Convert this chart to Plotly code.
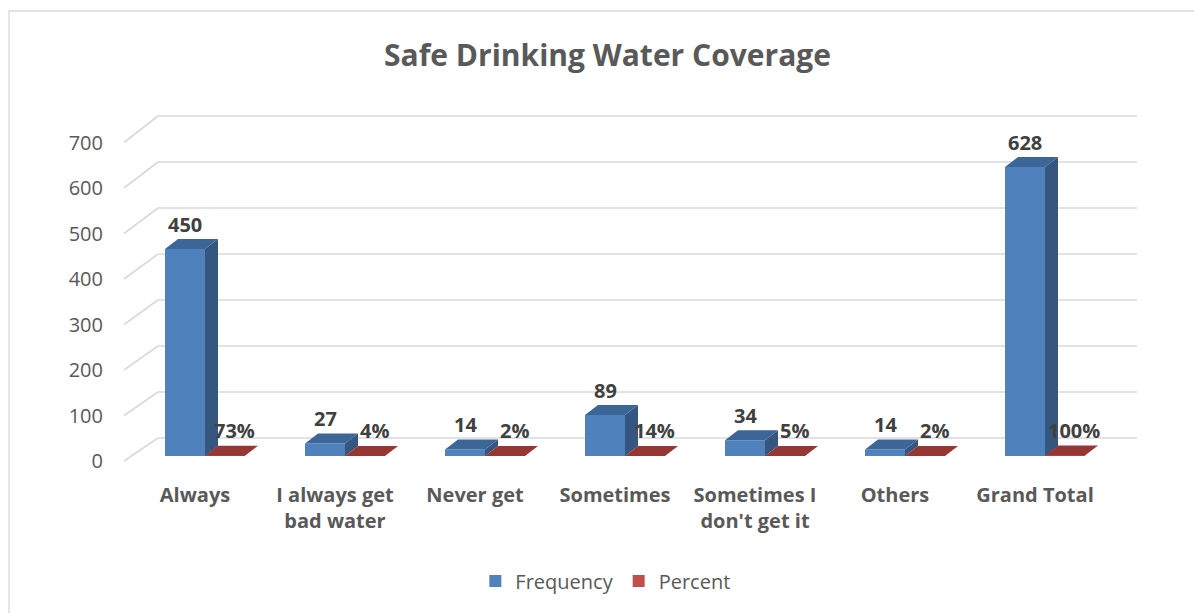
import plotly.graph_objects as go

# ---- data -------------------------------------------------------------
categories = ["Always", "I always get<br>bad water", "Never get", "Sometimes",
              "Sometimes I<br>don't get it", "Others", "Grand Total"]
frequency = [450, 27, 14, 89, 34, 14, 628]
percent = [73, 4, 2, 14, 5, 2, 100]          # shown as "%"; plotted as fractions
y_ticks = [0, 100, 200, 300, 400, 500, 600, 700]

# ---- geometry of the pseudo-3D drawing (pixels -> axis units) ----------
FIG_W, FIG_H = 1194, 613
M_L, M_R, M_T, M_B = 104, 0, 20, 143
PLOT_BOTTOM = FIG_H - M_B
CAT0_PX, CAT_STEP = 205, 140           # centre of first bar pair, spacing
BASE_PX, VAL_PX = 456, 0.46            # bar floor pixel, pixels per unit
LBL_BASE_PX, LBL_PX = 461, 0.455       # front edge of the side wall (tick labels)
BAR_W = 40 / CAT_STEP
DX, DY = 13 / CAT_STEP, 10 / VAL_PX    # bar depth
WALL_X0, WALL_X1 = (158 - CAT0_PX) / CAT_STEP, (1137 - CAT0_PX) / CAT_STEP
EDGE_X = (124 - CAT0_PX) / CAT_STEP
WALL_RISE_PX = 18

x_range = [(M_L - CAT0_PX) / CAT_STEP, (FIG_W - M_R - CAT0_PX) / CAT_STEP]
y_range = [(BASE_PX - PLOT_BOTTOM) / VAL_PX, (BASE_PX - M_T) / VAL_PX]
y2_range = [(LBL_BASE_PX - PLOT_BOTTOM) / LBL_PX, (LBL_BASE_PX - M_T) / LBL_PX]

BLUE, BLUE_SIDE, BLUE_TOP = "#4f81bd", "#34567f", "#3c6598"
RED, RED_SIDE, RED_TOP = "#c0504d", "#7a2c2a", "#953735"
GRID = "#d9d9d9"
TEXT = "#595959"
FONT = "Open Sans"


def faces(lefts, heights):
    """Side and top face polygons for a set of bars (None-separated)."""
    sx, sy, tx, ty = [], [], [], []
    for xl, h in zip(lefts, heights):
        xr = xl + BAR_W
        sx += [xr, xr + DX, xr + DX, xr, xr, None]
        sy += [0, DY, h + DY, h, 0, None]
        tx += [xl, xl + DX, xr + DX, xr, xl, None]
        ty += [h, h + DY, h + DY, h, h, None]
    return sx, sy, tx, ty


idx = list(range(len(categories)))
pct_frac = [p / 100 for p in percent]
freq_left = [i - BAR_W for i in idx]
pct_left = idx[:]

fig = go.Figure()

fig.add_trace(go.Bar(name="Frequency", x=idx, y=frequency, width=BAR_W,
                     offset=-BAR_W, marker=dict(color=BLUE, line_width=0)))
fig.add_trace(go.Bar(name="Percent", x=idx, y=pct_frac, width=BAR_W,
                     offset=0, marker=dict(color=RED, line_width=0)))

for lefts, heights, side_c, top_c in [(freq_left, frequency, BLUE_SIDE, BLUE_TOP),
                                      (pct_left, pct_frac, RED_SIDE, RED_TOP)]:
    sx, sy, tx, ty = faces(lefts, heights)
    fig.add_trace(go.Scatter(x=sx, y=sy, fill="toself", fillcolor=side_c,
                             mode="lines", line=dict(width=0, color=side_c),
                             showlegend=False, hoverinfo="skip"))
    fig.add_trace(go.Scatter(x=tx, y=ty, fill="toself", fillcolor=top_c,
                             mode="lines", line=dict(width=0, color=top_c),
                             showlegend=False, hoverinfo="skip"))

# side-wall diagonals, running from the tick labels back to the wall
dgx, dgy = [], []
for v in y_ticks:
    back_px = BASE_PX - WALL_RISE_PX - VAL_PX * v
    dgx += [EDGE_X, WALL_X0, None]
    dgy += [v, (LBL_BASE_PX - back_px) / LBL_PX, None]
fig.add_trace(go.Scatter(x=dgx, y=dgy, yaxis="y2", mode="lines",
                         line=dict(color=GRID, width=1.6),
                         showlegend=False, hoverinfo="skip"))

# back-wall gridlines
shapes = []
for v in y_ticks:
    yv = v + WALL_RISE_PX / VAL_PX
    shapes.append(dict(type="line", xref="x", yref="y", x0=WALL_X0, x1=WALL_X1,
                       y0=yv, y1=yv, layer="below",
                       line=dict(color=GRID, width=1.6)))
# chart frame
shapes.append(dict(type="rect", xref="paper", yref="paper",
                   x0=(9 - M_L) / (FIG_W - M_L - M_R), x1=1.05,
                   y0=-0.5, y1=(PLOT_BOTTOM - 11) / (PLOT_BOTTOM - M_T),
                   line=dict(color=GRID, width=1.3), layer="below"))

annotations = []
for i, f in zip(idx, frequency):
    annotations.append(dict(x=i - BAR_W / 2, y=f + DY, text=str(f), showarrow=False,
                            xref="x", yref="y", yanchor="middle", yshift=15,
                            font=dict(family=FONT, size=20, color="#404040",
                                      weight="bold")))
for i, p, pf in zip(idx, percent, pct_frac):
    annotations.append(dict(x=i + BAR_W / 2, y=pf + DY, text=f"{p}%", showarrow=False,
                            xref="x", yref="y", yanchor="middle", yshift=15, xshift=9,
                            font=dict(family=FONT, size=20, color="#404040",
                                      weight="bold")))

fig.update_layout(
    width=FIG_W, height=FIG_H,
    margin=dict(l=M_L, r=M_R, t=M_T, b=M_B),
    paper_bgcolor="white", plot_bgcolor="rgba(0,0,0,0)",
    barmode="overlay", hovermode=False,
    title=dict(text="Safe Drinking Water Coverage", xref="container", x=0.5088,
               xanchor="center", yref="container", y=1 - 55 / FIG_H, yanchor="middle",
               font=dict(family=FONT, size=30, color=TEXT, weight="bold")),
    xaxis=dict(range=x_range, tickmode="array", tickvals=idx, ticktext=categories,
               ticklabelshift=-10, ticklabelstandoff=11, showgrid=False,
               zeroline=False, showline=False, ticks="",
               tickfont=dict(family=FONT, size=20, color=TEXT, weight="bold")),
    yaxis=dict(range=y_range, showgrid=False, zeroline=False, showline=False,
               showticklabels=False, ticks=""),
    yaxis2=dict(range=y2_range, overlaying="y", side="left", tickmode="array",
                tickvals=y_ticks, showgrid=False, zeroline=False, showline=False,
                ticks="", tickfont=dict(family=FONT, size=20, color=TEXT)),
    legend=dict(orientation="h", xref="container", yref="container",
                x=0.507, xanchor="center", y=(FIG_H - 581) / FIG_H, yanchor="middle",
                font=dict(family=FONT, size=20, color=TEXT),
                itemclick=False, itemdoubleclick=False),
    shapes=shapes, annotations=annotations,
)

fig.write_html("out.html")
